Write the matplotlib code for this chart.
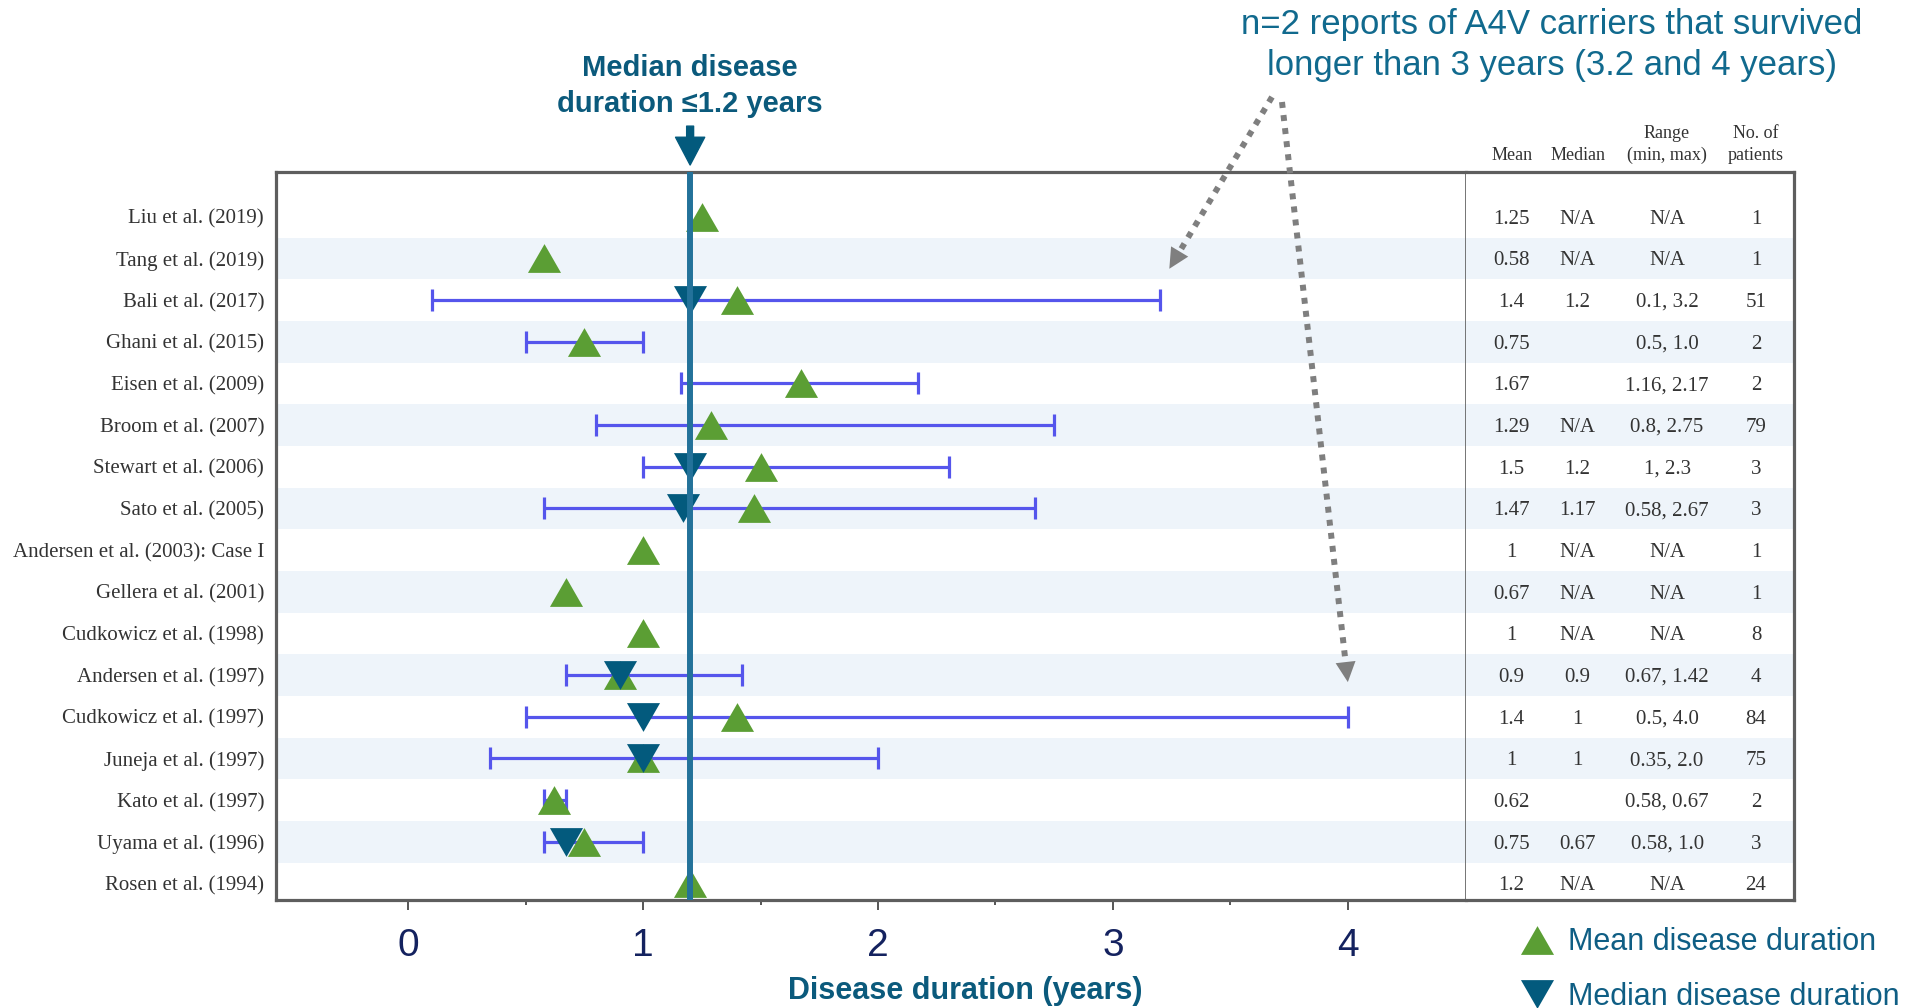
import numpy as np
import matplotlib.pyplot as plt
from matplotlib.lines import Line2D
from matplotlib.transforms import blended_transform_factory

plt.rcParams['font.family'] = ['Liberation Sans', 'DejaVu Sans']

# study table, top row first
studies = ["Liu et al. (2019)", "Tang et al. (2019)", "Bali et al. (2017)",
           "Ghani et al. (2015)", "Eisen et al. (2009)", "Broom et al. (2007)",
           "Stewart et al. (2006)", "Sato et al. (2005)",
           "Andersen et al. (2003): Case I", "Gellera et al. (2001)",
           "Cudkowicz et al. (1998)", "Andersen et al. (1997)",
           "Cudkowicz et al. (1997)", "Juneja et al. (1997)", "Kato et al. (1997)",
           "Uyama et al. (1996)", "Rosen et al. (1994)"]
mean_text = ["1.25", "0.58", "1.4", "0.75", "1.67", "1.29", "1.5", "1.47", "1",
             "0.67", "1", "0.9", "1.4", "1", "0.62", "0.75", "1.2"]
median_text = ["N/A", "N/A", "1.2", "", "", "N/A", "1.2", "1.17", "N/A", "N/A",
               "N/A", "0.9", "1", "1", "", "0.67", "N/A"]
range_text = ["N/A", "N/A", "0.1, 3.2", "0.5, 1.0", "1.16, 2.17", "0.8, 2.75",
              "1, 2.3", "0.58, 2.67", "N/A", "N/A", "N/A", "0.67, 1.42",
              "0.5, 4.0", "0.35, 2.0", "0.58, 0.67", "0.58, 1.0", "N/A"]
patients = [1, 1, 51, 2, 2, 79, 3, 3, 1, 1, 8, 4, 84, 75, 2, 3, 24]
overall_median = 1.2

GREEN = "#5b9e34"
NAVY = "#035a7d"
TEAL = "#0b5a7c"
BAND = "#eef4fa"
BOX = "#5e5e5e"
SERIF = "Liberation Serif"


def to_float(s):
    try:
        return float(s)
    except ValueError:
        return np.nan


mean_years = np.array([to_float(s) for s in mean_text])
median_years = np.array([to_float(s) for s in median_text])
range_lo = np.array([to_float(s.split(",")[0]) for s in range_text])
range_hi = np.array([to_float(s.split(",")[-1]) for s in range_text])
rows = np.arange(len(studies))

W, H = 1923, 1008
fig = plt.figure(figsize=(W / 100, H / 100), dpi=100)
ax = fig.add_axes([276 / W, 1 - 900 / H, 1190 / W, 728 / H])
tab = fig.add_axes([1466 / W, 1 - 900 / H, 328 / W, 728 / H], sharey=ax)

ax.set_xlim(-0.563, 4.503)
ax.set_ylim(16.40, -1.073)
tab.set_xlim(0, 1)

# alternating row shading across plot and table
for i in rows[1::2]:
    for a in (ax, tab):
        a.axhspan(i - 0.5, i + 0.5, color=BAND, lw=0, zorder=0)

# min-max ranges
has_range = ~np.isnan(range_lo)
ax.errorbar((range_lo + range_hi)[has_range] / 2, rows[has_range],
            xerr=(range_hi - range_lo)[has_range] / 2, fmt="none",
            ecolor="#5555ec", elinewidth=2.3, capsize=7.8, capthick=2.3, zorder=2)

tri_up = [(0, 0.87), (-1, -0.87), (1, -0.87)]
tri_down = [(0, -0.87), (-1, 0.87), (1, 0.87)]
has_mean = ~np.isnan(mean_years)
has_median = ~np.isnan(median_years)
mean_pts, = ax.plot(mean_years[has_mean], rows[has_mean], ls="none",
                    marker=tri_up, ms=23.8, mew=0, color=GREEN, zorder=3)
median_pts, = ax.plot(median_years[has_median], rows[has_median], ls="none",
                      marker=tri_down, ms=23.8, mew=0, color=NAVY, zorder=4)

ax.axvline(overall_median, color="#23729a", lw=4.3, zorder=6)

# axes styling
ax.set_yticks(rows, studies, fontfamily=SERIF, fontsize=15, color="#333333")
ax.tick_params(axis="y", length=0, pad=8.6)
ax.set_xticks([0, 1, 2, 3, 4])
ax.set_xticks([0.5, 1.5, 2.5, 3.5], minor=True)
ax.tick_params(axis="x", which="major", length=7.2, width=1.4, color="#555555",
               pad=13, labelsize=28, labelcolor="#14225f")
ax.tick_params(axis="x", which="minor", length=3.6, width=1.4, color="#555555")
for name, sp in ax.spines.items():
    sp.set_color(BOX)
    sp.set_linewidth(1.2 if name == "right" else 2.3)
for name, sp in tab.spines.items():
    sp.set_color(BOX)
    sp.set_linewidth(2.3)
tab.spines["left"].set_visible(False)
tab.tick_params(left=False, bottom=False, labelleft=False, labelbottom=False)

ax.set_xlabel("Disease duration (years)", fontsize=22, fontweight="bold", color=TEAL)
ax.xaxis.set_label_coords((965 - 276) / 1190, -0.104)

# table columns
col_x = [0.139, 0.340, 0.613, 0.884]
headers = ["Mean", "Median", "Range\n(min, max)", "No. of\npatients"]
columns = [mean_text, median_text, range_text, [str(n) for n in patients]]
for cx, head, col in zip(col_x, headers, columns):
    tab.text(cx, 1.011, head, transform=tab.transAxes, ha="center", va="bottom",
             fontsize=13, family=SERIF, color="#333333", linespacing=1.35)
    for i, txt in zip(rows, col):
        tab.text(cx, i, txt, ha="center", va="center_baseline", fontsize=15,
                 family=SERIF, color="#333333")

# overall median callout
top = blended_transform_factory(ax.transData, ax.transAxes)
ax.annotate("", xy=(overall_median, 1.0096), xycoords=top,
            xytext=(overall_median, 1.063), textcoords=top,
            arrowprops=dict(width=5, headwidth=21, headlength=20, color=NAVY, shrink=0))
ax.text(overall_median, 1.0828, f"Median disease\nduration \u2264{overall_median:g} years",
        transform=top, ha="center", va="baseline", fontsize=21, fontweight="bold",
        color=TEAL, linespacing=1.35, clip_on=False)

# long survivors note with dotted pointers
fig.text(1552 / W, 1 - 75 / H,
         "n=2 reports of A4V carriers that survived\nlonger than 3 years (3.2 and 4 years)",
         ha="center", va="baseline", fontsize=25, color="#116a8e", linespacing=1.3)
bali, cud97 = studies.index("Bali et al. (2017)"), studies.index("Cudkowicz et al. (1997)")
pointers = [((1272 / W, 1 - 97 / H), (range_hi[bali] + 0.04, bali - 0.75)),
            ((1282 / W, 1 - 102 / H), (range_hi[cud97], cud97 - 0.83))]
for start, tip in pointers:
    ax.annotate("", xy=tip, xytext=start, textcoords="figure fraction",
                arrowprops=dict(arrowstyle="-", color="#7f7f7f", lw=4.3,
                                linestyle=(0, (1, 1.2)), capstyle="butt",
                                shrinkA=0, shrinkB=12))
    ax.annotate("", xy=tip, xytext=start, textcoords="figure fraction",
                arrowprops=dict(arrowstyle="-|>,head_length=1.45,head_width=0.72",
                                mutation_scale=10, lw=0, color="#7f7f7f",
                                shrinkA=0, shrinkB=0))

handles = [Line2D([], [], ls="none", marker=tri_up, ms=23.8, mew=0, color=GREEN),
           Line2D([], [], ls="none", marker=tri_down, ms=23.8, mew=0, color=NAVY)]
fig.legend(handles, ["Mean disease duration", "Median disease duration"],
           loc="center left", bbox_to_anchor=(1521.7 / W, 1 - 969.5 / H),
           frameon=False, fontsize=22, handlelength=1.0, handletextpad=0.51,
           borderpad=0, borderaxespad=0, labelspacing=0.80, labelcolor="#0f5e84")

fig.savefig("out.png", dpi=100)
